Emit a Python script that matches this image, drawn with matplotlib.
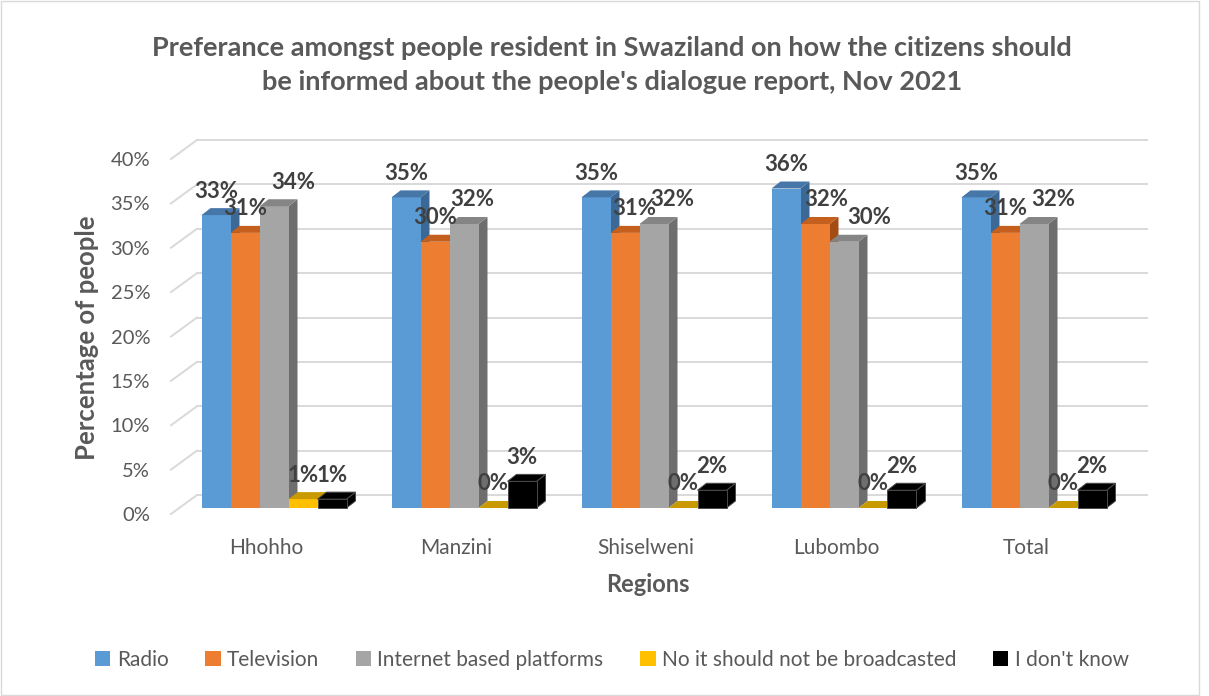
import numpy as np
import matplotlib.pyplot as plt
from matplotlib.patches import Polygon, Patch, Rectangle

plt.rcParams['font.family'] = ['Lato', 'DejaVu Sans']

# survey results (% of respondents)
regions = ['Hhohho', 'Manzini', 'Shiselweni', 'Lubombo', 'Total']
series = ['Radio', 'Television', 'Internet based platforms',
          'No it should not be broadcasted', "I don't know"]
radio = [33, 35, 35, 36, 35]
television = [31, 30, 31, 32, 31]
internet = [34, 32, 32, 30, 32]
not_broadcast = [1, 0, 0, 0, 0]
dont_know = [1, 3, 2, 2, 2]
values = [radio, television, internet, not_broadcast, dont_know]
yticks = [0, 5, 10, 15, 20, 25, 30, 35, 40]

front_col = ['#5B9BD5', '#ED7D31', '#A5A5A5', '#FFC000', '#000000']
top_col = ['#4677A8', '#C45F1D', '#858585', '#C99A00', '#000000']
side_col = ['#3B6894', '#A34C14', '#6E6E6E', '#A67C00', '#000000']
edge_col = [None, None, None, None, '#4A4A4A']

# label x nudges in points, per series / region
nudge = np.zeros((5, 5))
nudge[1] = [0, 0, 7, 8, 0]
nudge[2] = [14, 6, 13, 18, 14]

W, H, DPI = 1209, 696, 100
fig = plt.figure(figsize=(W / DPI, H / DPI), dpi=DPI)

# front plane of the 3-D box, pixels
left, right, bottom, top = 171, 1121, 182, 537
ax = fig.add_axes([left / W, bottom / H, (right - left) / W, (top - bottom) / H])
ax.set_xlim(-0.5, 4.5)
ax.set_ylim(0, 40)
px_x = 5 / (right - left)
px_y = 40 / (top - bottom)

wall_dx, wall_dy = 26 * px_x, 19 * px_y
bar_ox, bar_oy = 8 * px_x, 6 * px_y
bar_dx, bar_dy = 9 * px_x, 7 * px_y

# back wall gridlines + side wall diagonals
for t in yticks:
    ax.plot([-0.5, -0.5 + wall_dx], [t, t + wall_dy], color='#D9D9D9', lw=1.4,
            clip_on=False, zorder=1)
    ax.plot([-0.5 + wall_dx, 4.5 + wall_dx], [t + wall_dy, t + wall_dy],
            color='#D9D9D9', lw=1.4, clip_on=False, zorder=1)

group_w = 145 / 190
bar_w = group_w / 5
idx = np.arange(len(regions))

for j, name in enumerate(series):
    z = 2 + j * 0.1
    xc = idx - group_w / 2 + (j + 0.5) * bar_w + bar_ox
    ec = edge_col[j] or front_col[j]
    lw = 0.7 if edge_col[j] else 0
    ax.bar(xc, values[j], width=bar_w, bottom=bar_oy, color=front_col[j],
           edgecolor=ec, linewidth=lw, zorder=z + 0.01, clip_on=False)
    for i, v in enumerate(values[j]):
        x0, x1 = xc[i] - bar_w / 2, xc[i] + bar_w / 2
        y0, y1 = bar_oy, v + bar_oy
        side = Polygon([(x1, y0), (x1 + bar_dx, y0 + bar_dy),
                        (x1 + bar_dx, y1 + bar_dy), (x1, y1)],
                       closed=True, fc=side_col[j], ec=ec, lw=lw,
                       zorder=z, clip_on=False)
        cap = Polygon([(x0, y1), (x1, y1), (x1 + bar_dx, y1 + bar_dy),
                       (x0 + bar_dx, y1 + bar_dy)],
                      closed=True, fc=top_col[j], ec=ec, lw=lw,
                      zorder=z + 0.02, clip_on=False)
        ax.add_patch(side)
        ax.add_patch(cap)
        ax.annotate(f'{v}%', xy=(xc[i], y1), xytext=(nudge[j, i], 17.3),
                    textcoords='offset points', ha='center', va='center',
                    fontsize=16, fontweight='bold', color='#404040',
                    zorder=5, annotation_clip=False)

for s in ax.spines.values():
    s.set_visible(False)
ax.patch.set_alpha(0)

ax.set_yticks(yticks, [f'{t}%' for t in yticks])
ax.set_xticks(idx, regions)
ax.tick_params(axis='both', length=0, labelsize=14.5, labelcolor='#595959')
ax.tick_params(axis='y', pad=15)
ax.tick_params(axis='x', pad=17)
plt.setp(ax.get_xticklabels(), fontsize=15)

fig.text(87 / W, 1 - 338 / H, 'Percentage of people', rotation=90,
         ha='center', va='center', fontsize=18.5, fontweight='bold', color='#595959')
fig.text(648 / W, 1 - 584 / H, 'Regions', ha='center', va='center',
         fontsize=17, fontweight='bold', color='#595959')

fig.text(0.506, 1 - 65 / H,
         "Preferance amongst people resident in Swaziland on how the citizens should\n"
         "be informed about the people's dialogue report, Nov 2021",
         ha='center', va='center', fontsize=19.5, fontweight='bold',
         color='#595959', linespacing=1.52)

handles = [Patch(facecolor=c, edgecolor='none') for c in front_col]
leg = fig.legend(handles, series, loc='center', bbox_to_anchor=(0.506, 1 - 660 / H),
                 ncol=5, frameon=False, fontsize=15, handlelength=0.75,
                 handleheight=0.75, handletextpad=0.3, columnspacing=1.75)
for txt in leg.get_texts():
    txt.set_color('#595959')

fig.patches.append(Rectangle((1 / W, 1 / H), 1198 / W, 694 / H, fill=False,
                             ec='#D9D9D9', lw=1, transform=fig.transFigure))

fig.savefig('out.png', dpi=DPI)
